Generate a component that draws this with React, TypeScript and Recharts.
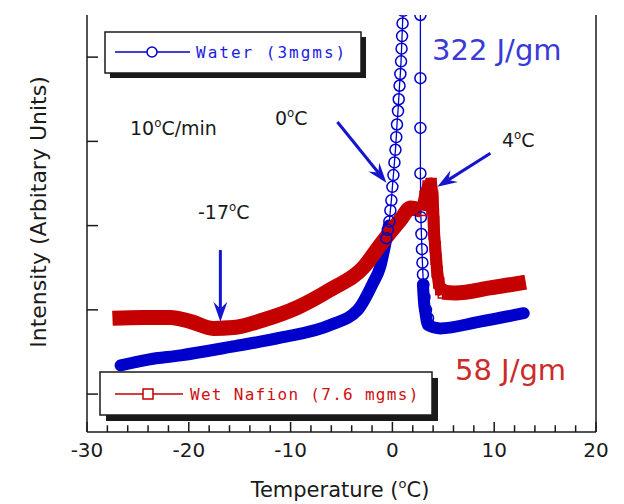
import { LineChart, Line, XAxis, YAxis, ReferenceLine } from "recharts";

// temperature axis
const tempTicks = [-30, -28, -26, -24, -22, -20, -18, -16, -14, -12, -10, -8, -6, -4, -2, 0, 2, 4, 6, 8, 10, 12, 14, 16, 18, 20];
const leftTicks = [0, 1, 2, 3, 4];
const rightTicks = [1, 2, 3, 4, 5, 6, 7];

// Water (3mgms) - dense part before the peak
const waterBaseT = [-26.7, -24.0, -20.8, -15.9, -11.0, -6.1, -3.4, -1.9, -1.2, -0.7, -0.35];
const waterBaseI = [0.34, 0.41, 0.46, 0.56, 0.67, 0.82, 1.0, 1.32, 1.51, 1.78, 2.0];
// Water - the melting peak (open circles), top is clipped
const waterPeakT = [-0.6, -0.45, -0.3, -0.2, -0.1, 0.0, 0.1, 0.2, 0.3, 0.38, 0.45, 0.55, 0.62, 0.7, 0.78, 0.85, 0.9, 0.95, 1.0, 1.05, 1.9, 2.75, 2.75, 2.75, 2.75, 2.8, 2.85, 2.9, 2.95, 3.0, 3.05, 3.15, 3.3, 3.5];
const waterPeakI = [1.85, 1.95, 2.05, 2.18, 2.3, 2.46, 2.6, 2.75, 2.9, 3.05, 3.2, 3.36, 3.5, 3.66, 3.8, 3.95, 4.1, 4.25, 4.4, 4.55, 7.5, 4.5, 3.75, 3.16, 2.62, 2.1, 1.9, 1.72, 1.56, 1.42, 1.3, 1.15, 1.0, 0.9];
// Water - dense part after the peak
const waterTailT = [3.0, 3.1, 3.25, 3.5, 4.7, 8.6, 12.9];
const waterTailI = [1.3, 1.1, 0.96, 0.82, 0.78, 0.86, 0.96];

// Wet Nafion (7.6 mgms)
const nafionBaseT = [-27.5, -24.5, -21.8, -19.8, -17.6, -15.6, -12.7, -9.3, -6.1, -2.8, -1.2, 0.8, 1.8, 2.9];
const nafionBaseI = [0.9, 0.91, 0.91, 0.86, 0.78, 0.79, 0.88, 1.03, 1.24, 1.51, 1.77, 2.07, 2.21, 2.18];
const nafionPeakT = [2.9, 3.2, 3.5, 3.8, 3.95, 4.0, 4.05, 4.1, 4.2, 4.3, 4.4, 4.55, 4.75, 5.0];
const nafionPeakI = [2.18, 2.35, 2.47, 2.5, 2.35, 2.2, 2.05, 1.9, 1.75, 1.6, 1.45, 1.32, 1.24, 1.2];
const nafionTailT = [4.9, 6.2, 9.6, 13.1];
const nafionTailI = [1.21, 1.2, 1.26, 1.33];

const pts = (t: number[], v: number[]) => t.map((x, i) => ({ t: x, v: v[i] }));

const Y_MIN = -0.45;
const Y_MAX = 4.5;

const BLUE = "#0000cc";
const RED = "#c40000";
const ARROW = "#1515d0";
const INK = "#1a1a1a";
const FONT = "DejaVu Sans, Verdana, sans-serif";
const MONO = "DejaVu Sans Mono, monospace";

const TempLabel = (props: any) => {
  const { x, y, payload } = props;
  if (Math.abs(payload.value) % 10 !== 0) return <g />;
  return (
    <text x={x} y={y + 25} textAnchor="middle" fontFamily={FONT} fontSize={20} fill={INK}>
      {payload.value}
    </text>
  );
};

const LeftTick = (props: any) => {
  const { x, y } = props;
  return <line x1={x} x2={x + 11} y1={y} y2={y} stroke={INK} strokeWidth={1.5} />;
};

const RightTick = (props: any) => {
  const { x, y } = props;
  return <line x1={x} x2={x - 11} y1={y} y2={y} stroke={INK} strokeWidth={1.5} />;
};

const Arrow = (p: any) => {
  const { x1, y1, x2, y2 } = p;
  const a = Math.atan2(y2 - y1, x2 - x1);
  const L = 20;
  const W = 7;
  const cx = Math.cos(a);
  const sy = Math.sin(a);
  const bx = x2 - L * cx;
  const by = y2 - L * sy;
  const mx = x2 - 0.65 * L * cx;
  const my = y2 - 0.65 * L * sy;
  const head = `${x2},${y2} ${bx - sy * W},${by + cx * W} ${mx},${my} ${bx + sy * W},${by - cx * W}`;
  return (
    <g>
      <line x1={x1} y1={y1} x2={mx} y2={my} stroke={ARROW} strokeWidth={3} />
      <polygon points={head} fill={ARROW} />
    </g>
  );
};

const TickMark = (p: any) => (
  <line x1={p.x1} y1={p.y1} x2={p.x2} y2={p.y2} stroke={INK} strokeWidth={1.5} />
);

const Sq = (props: any) => {
  const { cx, cy } = props;
  if (cx == null || cy == null) return null;
  return <rect x={cx - 5} y={cy - 5} width={10} height={10} fill="none" stroke={RED} strokeWidth={1.5} />;
};

const Deg = ({ x, y, pre, post, size, fill }: any) => (
  <text x={x} y={y} fontFamily={FONT} fontSize={size} fill={fill}>
    {pre}
    <tspan dy={-size * 0.42} fontSize={size * 0.62}>o</tspan>
    <tspan dy={size * 0.42}>{post}</tspan>
  </text>
);

export default function App() {
  return (
    <div style={{ position: "absolute", left: 0, top: 0, width: 624, height: 504, background: "#fff" }}>
      <LineChart width={624} height={504} margin={{ top: 15, right: 0, bottom: 0, left: 0 }}>
        <XAxis
          type="number"
          dataKey="t"
          domain={[-30, 20]}
          ticks={tempTicks}
          interval={0}
          height={72}
          tickSize={0}
          tickMargin={0}
          tickLine={false}
          tick={TempLabel}
          axisLine={{ stroke: INK, strokeWidth: 1.5 }}
          allowDataOverflow
        />
        <XAxis
          xAxisId="top"
          orientation="top"
          type="number"
          domain={[-30, 20]}
          height={0}
          tick={false}
          tickLine={false}
          axisLine={{ stroke: INK, strokeWidth: 1.5 }}
        />
        <YAxis
          type="number"
          domain={[Y_MIN, Y_MAX]}
          ticks={leftTicks}
          width={87}
          tickSize={0}
          tickMargin={0}
          tickLine={false}
          tick={LeftTick}
          axisLine={{ stroke: INK, strokeWidth: 1.5 }}
          allowDataOverflow
        />
        <YAxis
          yAxisId="right"
          orientation="right"
          type="number"
          domain={[0, 8]}
          ticks={rightTicks}
          width={28}
          tickSize={0}
          tickMargin={0}
          tickLine={false}
          tick={RightTick}
          axisLine={{ stroke: INK, strokeWidth: 1.5 }}
        />

        {/* inward tick marks of the temperature axis */}
        {tempTicks.map((t) => (
          <ReferenceLine
            key={`tm${t}`}
            segment={[
              { x: t, y: Y_MIN },
              { x: t, y: Y_MIN + (t % 10 === 0 ? 0.12 : 0.08) },
            ]}
            shape={TickMark}
          />
        ))}

        <Line
          data={pts(waterBaseT, waterBaseI)}
          dataKey="v"
          type="monotone"
          stroke={BLUE}
          strokeWidth={12}
          strokeLinecap="round"
          strokeLinejoin="round"
          dot={false}
          isAnimationActive={false}
        />
        <Line
          data={pts(waterTailT, waterTailI)}
          dataKey="v"
          type="monotone"
          stroke={BLUE}
          strokeWidth={12}
          strokeLinecap="round"
          strokeLinejoin="round"
          dot={false}
          isAnimationActive={false}
        />
        <Line
          data={pts(waterPeakT, waterPeakI)}
          dataKey="v"
          stroke={BLUE}
          strokeWidth={1.3}
          dot={{ r: 5.5, fill: "none", stroke: BLUE, strokeWidth: 1.5 }}
          isAnimationActive={false}
        />
        <Line
          data={pts(nafionBaseT, nafionBaseI)}
          dataKey="v"
          type="monotone"
          stroke={RED}
          strokeWidth={15}
          strokeLinecap="butt"
          strokeLinejoin="round"
          dot={false}
          isAnimationActive={false}
        />
        <Line
          data={pts(nafionTailT, nafionTailI)}
          dataKey="v"
          type="monotone"
          stroke={RED}
          strokeWidth={15}
          strokeLinecap="butt"
          strokeLinejoin="round"
          dot={false}
          isAnimationActive={false}
        />
        <Line
          data={pts(nafionPeakT, nafionPeakI)}
          dataKey="v"
          stroke={RED}
          strokeWidth={12}
          strokeLinejoin="round"
          dot={<Sq />}
          isAnimationActive={false}
        />

        <ReferenceLine segment={[{ x: -5.4, y: 3.23 }, { x: -0.59, y: 2.51 }]} shape={Arrow} />
        <ReferenceLine segment={[{ x: 9.63, y: 2.86 }, { x: 4.42, y: 2.46 }]} shape={Arrow} />
        <ReferenceLine segment={[{ x: -16.9, y: 1.71 }, { x: -16.9, y: 0.86 }]} shape={Arrow} />
      </LineChart>

      <svg width={624} height={504} style={{ position: "absolute", left: 0, top: 0, pointerEvents: "none" }}>
        {/* legend: water */}
        <rect x={110} y={37} width={256} height={41} fill={INK} />
        <rect x={105} y={32} width={256} height={41} fill="#fff" stroke={INK} strokeWidth={1.5} />
        <line x1={115} x2={190} y1={52} y2={52} stroke={BLUE} strokeWidth={1.5} />
        <circle cx={152} cy={52} r={5} fill="#fff" stroke={BLUE} strokeWidth={1.5} />
        <text x={196} y={58} fontFamily={MONO} fontSize={16} letterSpacing={2} fill="#1c1ce0">
          Water (3mgms)
        </text>

        {/* legend: wet nafion */}
        <rect x={106} y={378} width={332} height={43} fill={INK} />
        <rect x={100} y={372} width={332} height={43} fill="#fff" stroke={INK} strokeWidth={1.5} />
        <line x1={115} x2={183} y1={394} y2={394} stroke={RED} strokeWidth={1.5} />
        <rect x={143} y={389} width={10} height={10} fill="#fff" stroke={RED} strokeWidth={1.5} />
        <text x={190} y={400} fontFamily={MONO} fontSize={16} letterSpacing={1.3} fill="#cc1111">
          Wet Nafion (7.6 mgms)
        </text>

        {/* enthalpies */}
        <text x={432} y={60} fontFamily={FONT} fontSize={29} fill="#3a3ad6">322 J/gm</text>
        <text x={455} y={380} fontFamily={FONT} fontSize={29} fill="#cc2b2b">58 J/gm</text>

        {/* temperature notes */}
        <Deg x={130} y={135} pre="10" post="C/min" size={19} fill={INK} />
        <Deg x={275} y={125} pre="0" post="C" size={19} fill={INK} />
        <Deg x={502} y={147} pre="4" post="C" size={19} fill={INK} />
        <Deg x={198} y={219} pre="-17" post="C" size={19} fill={INK} />

        {/* axis titles */}
        <text
          x={38}
          y={212}
          transform="rotate(-90 38 212)"
          textAnchor="middle"
          dominantBaseline="central"
          fontFamily={FONT}
          fontSize={22}
          fill={INK}
        >
          Intensity (Arbitary Units)
        </text>
        <text x={340} y={497} textAnchor="middle" fontFamily={FONT} fontSize={21} fill={INK}>
          Temperature (<tspan dy={-9} fontSize={13}>o</tspan>
          <tspan dy={9}>C)</tspan>
        </text>
      </svg>
    </div>
  );
}
